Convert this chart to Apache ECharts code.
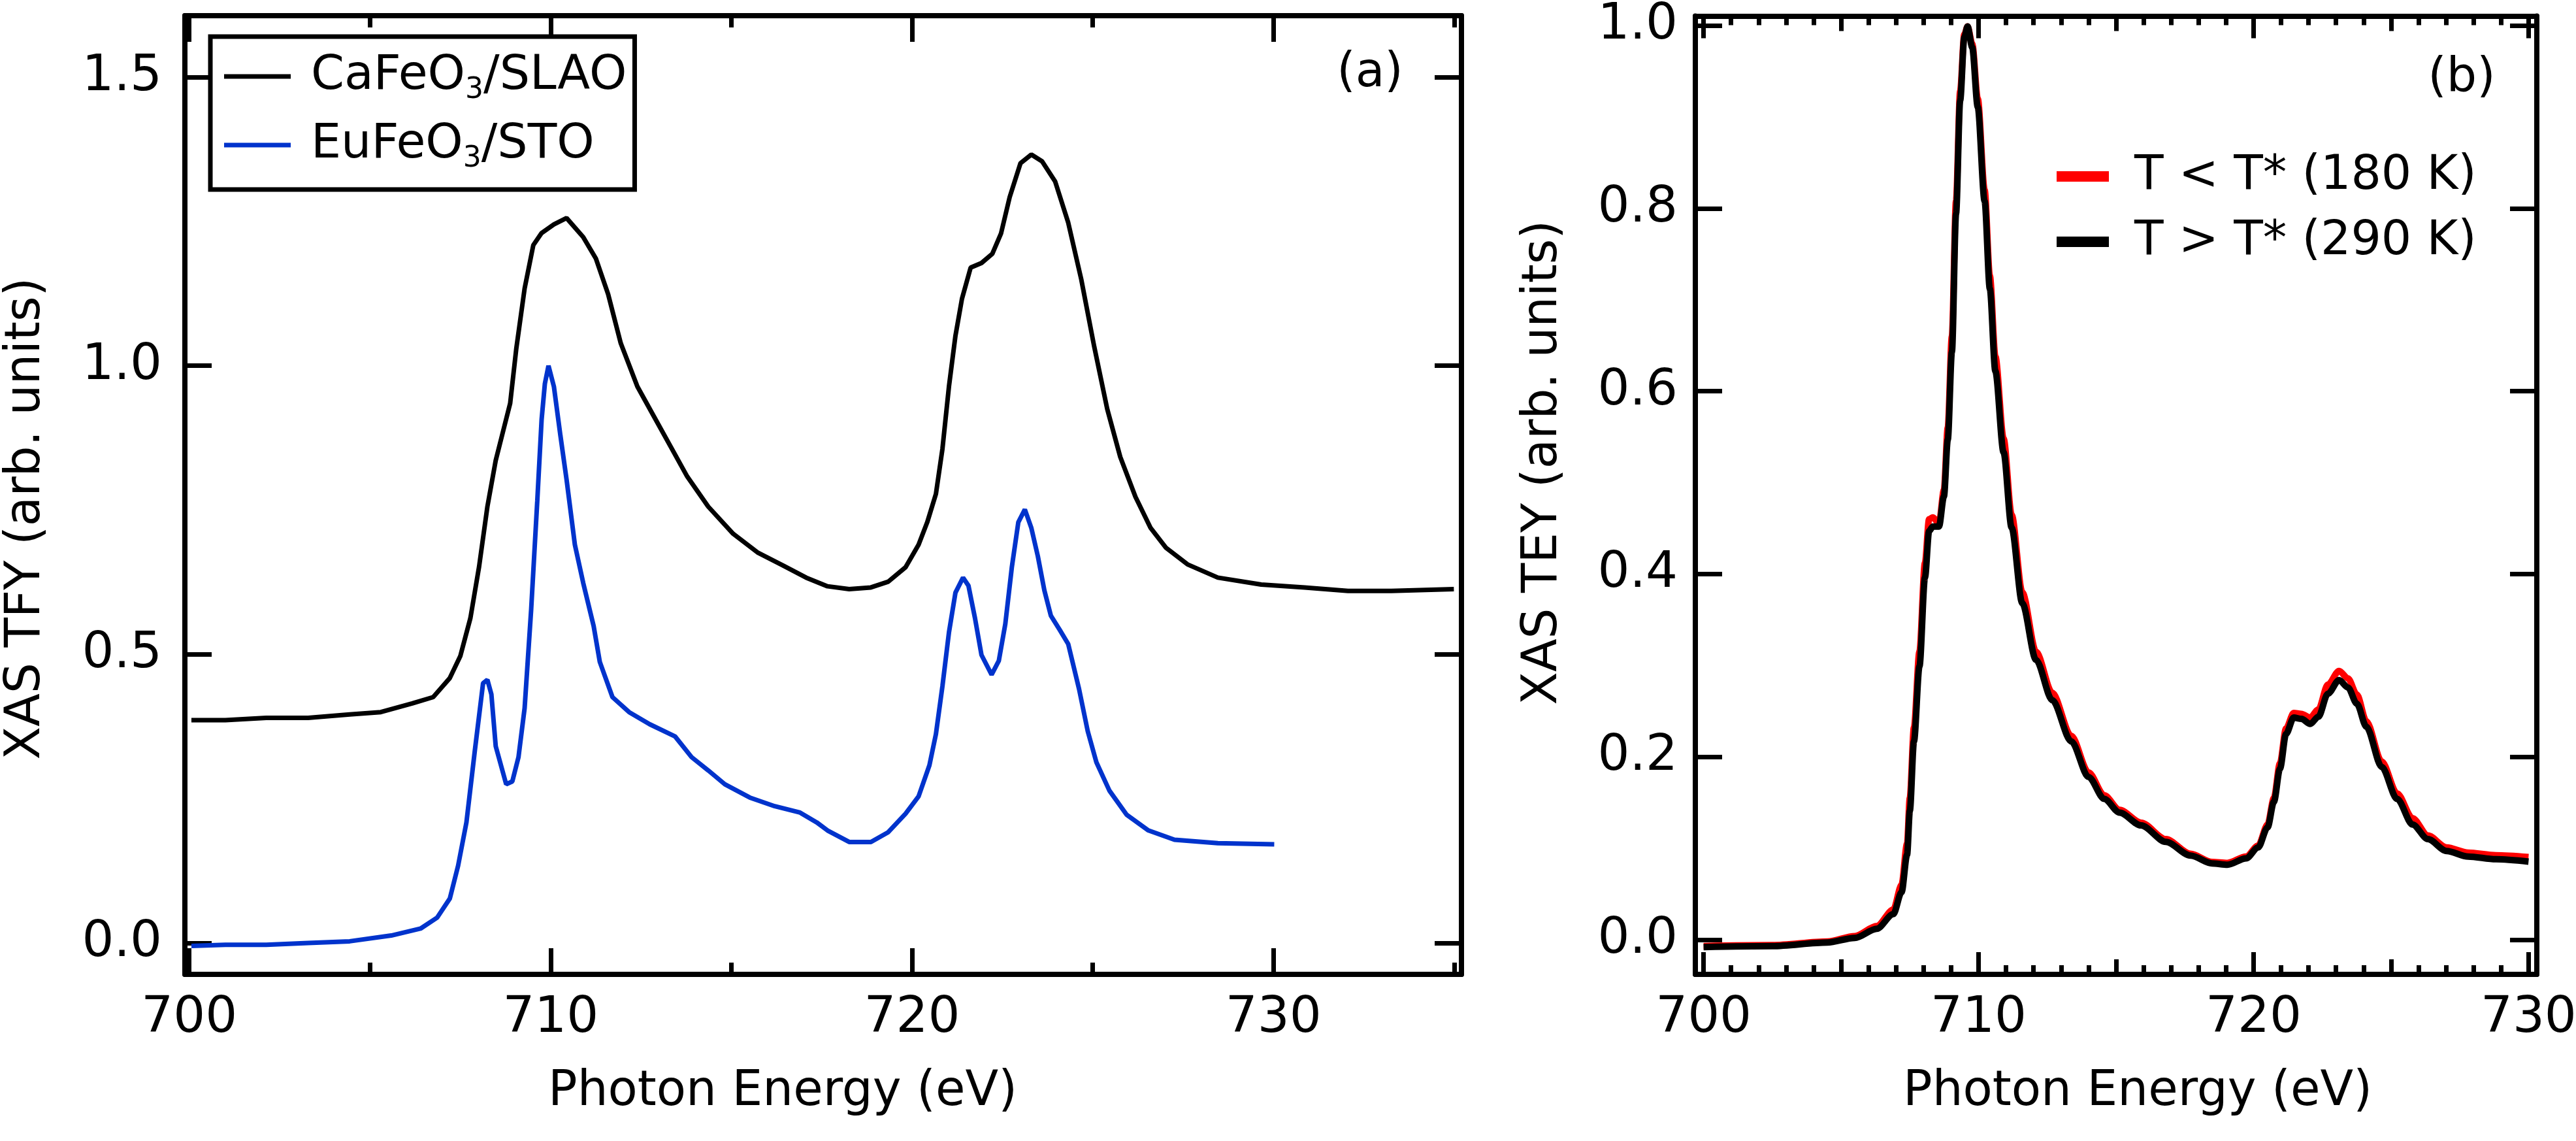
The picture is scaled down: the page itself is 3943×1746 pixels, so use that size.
<!DOCTYPE html>
<html><head><meta charset="utf-8">
<script src="https://cdn.jsdelivr.net/npm/echarts@6/dist/echarts.min.js"></script>
<style>html,body{margin:0;padding:0;background:#fff}#c{width:3943px;height:1746px}</style>
</head><body><div id="c"></div>
<script>
// ---------- Panel (a): XAS TFY ----------
const caName = 'CaFeO₃/SLAO';
const euName = 'EuFeO₃/STO';
const caEnergy = [700.06,701.0,702.13,703.29,704.44,705.3,706.17,706.75,707.21,707.5,707.78,708.02,708.25,708.48,708.71,708.88,709.05,709.28,709.52,709.75,710.09,710.44,710.9,711.25,711.59,711.94,712.4,712.86,713.32,713.78,714.36,715.05,715.74,716.43,717.07,717.66,718.26,718.86,719.34,719.82,720.18,720.42,720.66,720.84,721.02,721.2,721.38,721.62,721.92,722.22,722.46,722.7,723.0,723.3,723.6,723.96,724.32,724.68,725.04,725.4,725.76,726.18,726.6,727.02,727.62,728.46,729.66,730.86,732.06,733.26,734.99];
const caTFY = [0.386,0.386,0.390,0.390,0.396,0.400,0.415,0.426,0.459,0.497,0.563,0.652,0.756,0.836,0.893,0.935,1.030,1.134,1.209,1.230,1.245,1.256,1.223,1.186,1.124,1.039,0.964,0.912,0.860,0.808,0.756,0.709,0.676,0.654,0.633,0.618,0.613,0.616,0.626,0.651,0.690,0.729,0.778,0.856,0.964,1.052,1.116,1.170,1.178,1.194,1.229,1.292,1.351,1.366,1.354,1.319,1.248,1.150,1.033,0.925,0.842,0.773,0.719,0.685,0.656,0.633,0.621,0.616,0.610,0.610,0.613];
const euEnergy = [700.06,701.0,702.13,703.29,704.44,705.59,706.4,706.86,707.21,707.44,707.67,707.9,708.13,708.25,708.36,708.48,708.77,708.94,709.11,709.28,709.46,709.63,709.75,709.84,709.94,710.09,710.27,710.44,710.67,710.9,711.19,711.36,711.71,712.17,712.74,713.44,713.9,714.36,714.82,715.51,716.2,716.9,717.36,717.66,718.26,718.86,719.34,719.82,720.18,720.48,720.66,720.84,721.02,721.2,721.41,721.56,721.74,721.92,722.2,722.4,722.58,722.76,722.94,723.12,723.3,723.48,723.66,723.84,724.08,724.32,724.62,724.86,725.1,725.46,725.94,726.54,727.26,728.46,730.02];
const euTFY = [-0.005,-0.003,-0.003,0.000,0.003,0.013,0.025,0.044,0.077,0.134,0.209,0.332,0.450,0.456,0.431,0.341,0.275,0.280,0.322,0.407,0.577,0.766,0.907,0.969,1.000,0.964,0.879,0.803,0.690,0.624,0.549,0.487,0.426,0.400,0.379,0.358,0.322,0.299,0.275,0.252,0.237,0.226,0.209,0.195,0.175,0.175,0.192,0.224,0.254,0.308,0.362,0.445,0.538,0.607,0.633,0.619,0.563,0.499,0.465,0.489,0.553,0.651,0.729,0.751,0.719,0.670,0.611,0.567,0.543,0.518,0.440,0.367,0.313,0.264,0.222,0.195,0.179,0.173,0.171];

// ---------- Panel (b): XAS TEY ----------
const lowName = 'T < T* (180 K)';
const highName = 'T > T* (290 K)';
const bEnergy = [700.0,702.5,704.5,705.5,706.3,706.9,707.2,707.4,707.5,707.65,707.85,708.05,708.2,708.34,708.56,708.74,708.88,709.03,709.18,709.33,709.48,709.6,709.77,709.97,710.22,710.41,710.61,710.91,711.2,711.59,712.09,712.68,713.37,714.0,714.57,715.13,715.91,716.81,717.71,718.49,719.05,719.73,720.17,720.51,720.74,720.96,721.18,721.46,721.74,722.06,722.36,722.7,723.11,723.43,723.76,724.1,724.66,725.22,725.78,726.34,727.02,727.8,728.81,730.0];
const teyLow = [-0.007,-0.006,-0.002,0.004,0.015,0.033,0.060,0.105,0.155,0.232,0.315,0.412,0.460,0.462,0.455,0.492,0.560,0.660,0.808,0.928,0.990,0.999,0.980,0.920,0.820,0.726,0.638,0.548,0.465,0.380,0.315,0.270,0.223,0.183,0.158,0.142,0.128,0.110,0.094,0.085,0.084,0.091,0.103,0.126,0.155,0.193,0.231,0.248,0.247,0.243,0.252,0.279,0.294,0.286,0.268,0.239,0.195,0.160,0.133,0.114,0.101,0.0953,0.0924,0.0904];
const teyHigh = [-0.008,-0.007,-0.003,0.002,0.012,0.028,0.052,0.093,0.141,0.217,0.299,0.396,0.447,0.452,0.452,0.485,0.547,0.643,0.794,0.918,0.987,0.999,0.976,0.911,0.808,0.712,0.622,0.533,0.451,0.368,0.306,0.262,0.217,0.178,0.154,0.139,0.125,0.107,0.092,0.0835,0.082,0.089,0.101,0.123,0.151,0.187,0.225,0.243,0.2416,0.236,0.244,0.269,0.284,0.276,0.258,0.233,0.189,0.154,0.126,0.110,0.097,0.091,0.088,0.0854];

// ---------- Ticks ----------
const xMajorTicks = [700,710,720,730];
const xMidTicksA = [705,715,725,735];
const xMidTicksB = [705,715,725];
const xMinorTicksB = [701,702,703,704,706,707,708,709,711,712,713,714,716,717,718,719,721,722,723,724,726,727,728,729];
const yTicksA = [0,0.5,1.0,1.5];
const yTicksB = [0,0.2,0.4,0.6,0.8,1.0];

const FONT = 'DejaVu Sans';
const FS = 73;       // legend / panel labels
const FS_TICK = 77;  // tick labels
const FS_NAME = 74;  // axis titles
const AX_W = 8, TK_W = 7;
const rangeAX = [699.88, 735.2], rangeAY = [-0.0543, 1.6065];
const rangeBX = [699.7, 730.3], rangeBY = [-0.0379, 1.0104];

function xAxisDef(grid, range, pos, ticks, len, withLine, label, name, namePad) {
  const a = {
    gridIndex: grid, type: 'value', min: range[0], max: range[1], position: pos,
    axisLine: { show: withLine, onZero: false, lineStyle: { color: '#000', width: AX_W } },
    axisTick: { show: true, inside: true, length: len, customValues: ticks, lineStyle: { color: '#000', width: TK_W } },
    axisLabel: { show: false },
    splitLine: { show: false }, axisPointer: { show: false }
  };
  if (label) {
    a.axisLabel = { show: true, customValues: ticks, margin: 29, color: '#000', fontFamily: FONT, fontSize: FS_TICK };
    a.name = name; a.nameLocation = 'middle'; a.nameGap = 144;
    a.nameTextStyle = { color: '#000', fontFamily: FONT, fontSize: FS_NAME, padding: namePad };
  }
  return a;
}
function yAxisDef(grid, range, pos, ticks, label, name, margin, nameGap, namePad) {
  const a = {
    gridIndex: grid, type: 'value', min: range[0], max: range[1], position: pos,
    axisLine: { show: true, onZero: false, lineStyle: { color: '#000', width: AX_W } },
    axisTick: { show: true, inside: true, length: 41, customValues: ticks, lineStyle: { color: '#000', width: TK_W } },
    axisLabel: { show: false },
    splitLine: { show: false }, axisPointer: { show: false }
  };
  if (label) {
    a.axisLabel = { show: true, customValues: ticks, margin: margin, color: '#000', fontFamily: FONT, fontSize: FS_TICK,
      formatter: v => v.toFixed(1) };
    a.name = name; a.nameLocation = 'middle'; a.nameGap = nameGap;
    a.nameTextStyle = { color: '#000', fontFamily: FONT, fontSize: FS_NAME, padding: namePad };
  }
  return a;
}
const zip = (xs, ys) => xs.map((x, i) => [x, ys[i]]);
const subFmt = (n) => {
  const parts = n.split('₃');
  return '{p|}{a|' + parts[0] + '}{s|3}{a|' + parts[1] + '}';
};

const chart = echarts.init(document.getElementById('c'), null, { width: 3943, height: 1746 });
chart.setOption({
  animation: false,
  backgroundColor: '#fff',
  grid: [
    { left: 283, top: 24, width: 1954, height: 1467, outerBoundsMode: 'none', containLabel: false },
    { left: 2595, top: 24.5, width: 1288, height: 1466.5, outerBoundsMode: 'none', containLabel: false }
  ],
  xAxis: [
    xAxisDef(0, rangeAX, 'bottom', xMajorTicks, 40, true, true, 'Photon Energy (eV)', [0, 124, 0, 0]),
    xAxisDef(0, rangeAX, 'bottom', xMidTicksA, 18, false, false),
    xAxisDef(0, rangeAX, 'top', xMajorTicks, 40, true, false),
    xAxisDef(0, rangeAX, 'top', xMidTicksA, 18, false, false),
    xAxisDef(1, rangeBX, 'bottom', xMajorTicks, 34, true, true, 'Photon Energy (eV)', [0, 0, 0, 66]),
    xAxisDef(1, rangeBX, 'bottom', xMidTicksB, 23, false, false),
    xAxisDef(1, rangeBX, 'bottom', xMinorTicksB, 14, false, false),
    xAxisDef(1, rangeBX, 'top', xMajorTicks, 34, true, false),
    xAxisDef(1, rangeBX, 'top', xMidTicksB, 23, false, false),
    xAxisDef(1, rangeBX, 'top', xMinorTicksB, 14, false, false)
  ],
  yAxis: [
    yAxisDef(0, rangeAY, 'left', yTicksA, true, 'XAS TFY (arb. units)', 35, 205, [0, 72, 0, 0]),
    yAxisDef(0, rangeAY, 'right', yTicksA, false),
    yAxisDef(1, rangeBY, 'left', yTicksB, true, 'XAS TEY (arb. units)', 27, 195, [0, 0, 0, 100]),
    yAxisDef(1, rangeBY, 'right', yTicksB, false)
  ],
  legend: [
    {
      data: [caName, euName], orient: 'vertical', left: 322, top: 56,
      padding: [17, 12, 24, 21], itemGap: 17, itemWidth: 102, itemHeight: 7, icon: 'rect',
      borderColor: '#000', borderWidth: 7, borderRadius: 0, backgroundColor: '#fff',
      selectedMode: false,
      formatter: subFmt,
      textStyle: {
        color: '#000', fontFamily: FONT, fontSize: FS, lineHeight: 88,
        rich: {
          p: { width: 26 },
          a: { fontFamily: FONT, fontSize: FS, lineHeight: 88, color: '#000', verticalAlign: 'middle' },
          s: { fontFamily: FONT, fontSize: 44, lineHeight: 30, color: '#000', verticalAlign: 'bottom' }
        }
      }
    },
    {
      data: [lowName, highName], orient: 'vertical', left: 3148, top: 226,
      padding: 0, itemGap: 12, itemWidth: 80, itemHeight: 16, icon: 'rect',
      selectedMode: false,
      formatter: n => '{p|}{a|' + n + '}',
      textStyle: {
        color: '#000', fontFamily: FONT, fontSize: FS, lineHeight: 88,
        rich: {
          p: { width: 34 },
          a: { fontFamily: FONT, fontSize: FS, lineHeight: 88, color: '#000' }
        }
      }
    }
  ],
  graphic: [
    { type: 'text', x: 2097, y: 113, style: { text: '(a)', font: FS + 'px "' + FONT + '"', fill: '#000', align: 'center', verticalAlign: 'middle' } },
    { type: 'text', x: 3768, y: 121, style: { text: '(b)', font: FS + 'px "' + FONT + '"', fill: '#000', align: 'center', verticalAlign: 'middle' } }
  ],
  series: [
    { name: caName, type: 'line', xAxisIndex: 0, yAxisIndex: 0, data: zip(caEnergy, caTFY), showSymbol: false, symbol: 'none',
      color: '#000000', lineStyle: { color: '#000000', width: 7 }, itemStyle: { color: '#000000' } },
    { name: euName, type: 'line', xAxisIndex: 0, yAxisIndex: 0, data: zip(euEnergy, euTFY), showSymbol: false, symbol: 'none',
      color: '#0033cc', lineStyle: { color: '#0033cc', width: 7 }, itemStyle: { color: '#0033cc' } },
    { name: lowName, type: 'line', xAxisIndex: 4, yAxisIndex: 2, data: zip(bEnergy, teyLow), showSymbol: false, symbol: 'none',
      smooth: 0.3, smoothMonotone: 'x',
      color: '#ff0000', lineStyle: { color: '#ff0000', width: 10 }, itemStyle: { color: '#ff0000' } },
    { name: highName, type: 'line', xAxisIndex: 4, yAxisIndex: 2, data: zip(bEnergy, teyHigh), showSymbol: false, symbol: 'none',
      smooth: 0.3, smoothMonotone: 'x',
      color: '#000000', lineStyle: { color: '#000000', width: 10 }, itemStyle: { color: '#000000' } }
  ]
});
</script></body></html>
